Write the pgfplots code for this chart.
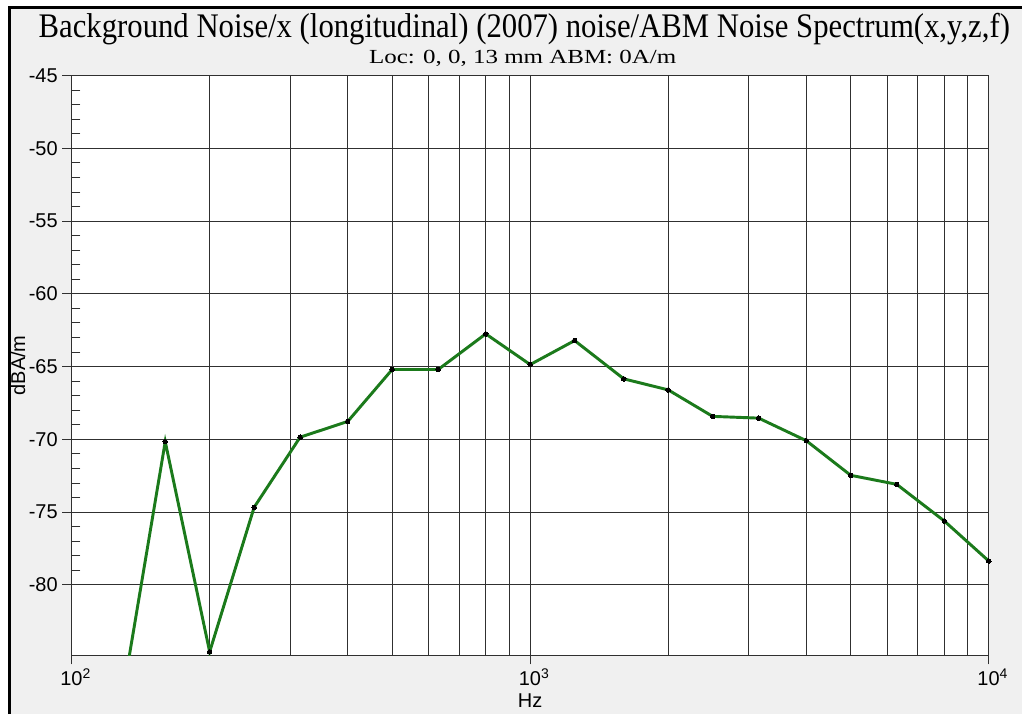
\documentclass[border=0pt]{standalone}
\usepackage{fontspec}
\setmainfont{Liberation Serif}
\setsansfont{Liberation Sans}
\usepackage{graphicx}
\usepackage{pgfplots}
\pgfplotsset{compat=1.18}
\definecolor{bg}{HTML}{F0F0F0}
\definecolor{lgreen}{HTML}{1B7A1B}
\definecolor{gridc}{HTML}{303030}
\begin{document}
\begin{tikzpicture}
\fill[white] (0,0) rectangle (767.25pt,536.25pt);
\fill[bg] (6pt,0) rectangle (767.25pt,531pt);
\draw[line width=2pt] (7pt,0) -- (7pt,530.5pt) -- (767.25pt,530.5pt);
\begin{axis}[
  at={(53.8pt,44.25pt)}, anchor=south west,
  scale only axis, width=688.7pt, height=435.2pt,
  xmode=log, xmin=100, xmax=10000, ymin=-84.83, ymax=-45,
  axis background/.style={fill=white},
  axis line style={gridc, line width=0.9pt},
  xtick={100,1000,10000},
  xticklabels={10\textsuperscript{2},10\textsuperscript{3},10\textsuperscript{4}},
  ytick={-80,-75,-70,-65,-60,-55,-50,-45},
  yticklabels={-80,-75,-70,-65,-60,-55,-50,-45},
  minor y tick num=4,
  tick pos=left,
  tick align=outside,
  major tick length=7pt,
  minor tick length=-6.5pt,
  tick style={gridc, line width=0.75pt},
  xmajorgrids, xminorgrids, ymajorgrids,
  major grid style={gridc, line width=0.75pt},
  minor grid style={gridc, line width=0.75pt},
  ticklabel style={font=\fontsize{15}{18}\sffamily},
  xticklabel style={xshift=3pt},
  label style={font=\fontsize{15}{18}\sffamily},
  xlabel={Hz},
  ylabel={dBA/m},
  xlabel style={at={(axis description cs:0.5,-0.0793)}, anchor=center},
  ylabel style={at={(axis description cs:-0.0585,0.5)}, rotate=0, anchor=center},
]
\addplot[lgreen, line width=2.2pt, mark=*, mark size=1.7pt,
  mark options={fill=black, draw=black, line width=0pt}] table {
x y
125 -90.3
160 -70.16
200 -84.6
250 -74.67
315 -69.85
400 -68.77
500 -65.2
630 -65.2
800 -62.75
1000 -64.86
1250 -63.21
1600 -65.84
2000 -66.6
2500 -68.42
3150 -68.54
4000 -70.09
5000 -72.47
6300 -73.09
8000 -75.61
10000 -78.36
};
\end{axis}
\node[anchor=base, font=\fontsize{22.5}{26}\selectfont] at (393.75pt,507.75pt) {\scalebox{1.025}[1.15]{Background Noise/x (longitudinal) (2007) noise/ABM Noise Spectrum(x,y,z,f)}};
\node[anchor=base, font=\fontsize{15}{18}\selectfont] at (392.5pt,488.5pt) {\scalebox{1.25}[1]{Loc: 0, 0, 13 mm ABM: 0A/m}};
\end{tikzpicture}
\end{document}
